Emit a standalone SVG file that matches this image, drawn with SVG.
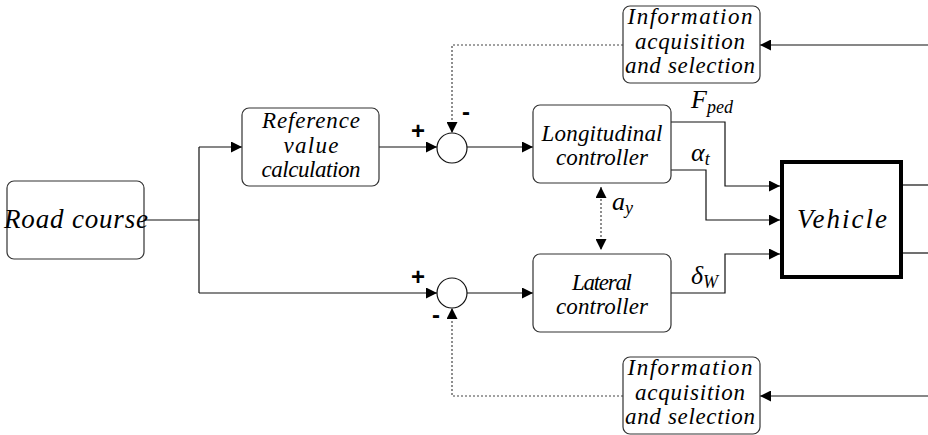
<svg xmlns="http://www.w3.org/2000/svg" width="928" height="435" viewBox="0 0 928 435">
  <style>
    .box { fill: #fff; stroke: #333; stroke-width: 1.2; }
    .wire { fill: none; stroke: #111; stroke-width: 1.2; }
    .dot { fill: none; stroke: #444; stroke-width: 1.2; stroke-dasharray: 2 2; }
    .lbl { font-family: "Liberation Serif", "Times New Roman", serif; font-style: italic; font-weight: normal; font-size: 23px; fill: #000; text-anchor: middle; }
    .sym { font-family: "Liberation Serif", "Times New Roman", serif; font-style: italic; font-size: 26px; fill: #000; }
    .sign { font-family: "Liberation Sans", Arial, sans-serif; font-weight: bold; font-size: 24px; fill: #000; text-anchor: middle; }
  </style>
  <defs>
    <marker id="arr" markerUnits="userSpaceOnUse" markerWidth="11" markerHeight="11" refX="11" refY="5.5" orient="auto-start-reverse">
      <path d="M0,0 L11,5.5 L0,11 z" fill="#000"/>
    </marker>
  </defs>

  <!-- connectors -->
  <g id="connectors">
    <path class="wire" d="M144,220 H199"/>
    <path class="wire" d="M199,147 V293"/>
    <path class="wire" d="M199,147 H242" marker-end="url(#arr)"/>
    <path class="wire" d="M199,293 H437" marker-end="url(#arr)"/>
    <path class="wire" d="M379,147 H437" marker-end="url(#arr)"/>
    <path class="wire" d="M467,147 H533" marker-end="url(#arr)"/>
    <path class="wire" d="M467,293 H533" marker-end="url(#arr)"/>
    <path class="wire" d="M671,122 H725 V186 H780" marker-end="url(#arr)"/>
    <path class="wire" d="M671,170 H706 V220 H780" marker-end="url(#arr)"/>
    <path class="wire" d="M671,293 H725 V254 H780" marker-end="url(#arr)"/>
    <path class="wire" d="M903,185 H928"/>
    <path class="wire" d="M903,253 H928"/>
    <path class="wire" d="M928,45 H760" marker-end="url(#arr)"/>
    <path class="wire" d="M928,396 H760" marker-end="url(#arr)"/>
    <path class="dot" d="M623,45 H452 V133" marker-end="url(#arr)"/>
    <path class="dot" d="M623,396 H452 V308" marker-end="url(#arr)"/>
    <path class="dot" d="M601,187 V250" marker-start="url(#arr)" marker-end="url(#arr)"/>

    <!-- signal labels -->
    <text class="sym" x="691" y="108">F<tspan font-size="18" dy="5">ped</tspan></text>
    <text class="sym" x="691" y="161">α<tspan font-size="18" dy="4">t</tspan></text>
    <text class="sym" x="612" y="210">a<tspan font-size="18" dy="4">y</tspan></text>
    <text class="sym" x="691" y="284">δ<tspan font-size="18" dy="4">W</tspan></text>

    <!-- summing junction signs -->
    <text class="sign" x="418" y="139">+</text>
    <text class="sign" x="466" y="120">-</text>
    <text class="sign" x="418" y="285">+</text>
    <text class="sign" x="436" y="323">-</text>
  </g>

  <g id="road-course">
    <rect class="box" x="7" y="181" width="137" height="78" rx="7"/>
    <text class="lbl" x="76" y="228" style="font-size:27px" textLength="144" lengthAdjust="spacing">Road course</text>
  </g>

  <g id="reference-value">
    <rect class="box" x="242" y="108" width="137" height="78" rx="7"/>
    <text class="lbl" x="311" y="128" textLength="98" lengthAdjust="spacing">Reference</text>
    <text class="lbl" x="311" y="153" textLength="55" lengthAdjust="spacing">value</text>
    <text class="lbl" x="311" y="177" textLength="99" lengthAdjust="spacing">calculation</text>
  </g>

  <g id="sum-longitudinal">
    <circle cx="452" cy="148" r="15" fill="#fff" stroke="#111" stroke-width="1.2"/>
  </g>
  <g id="sum-lateral">
    <circle cx="452" cy="293" r="15" fill="#fff" stroke="#111" stroke-width="1.2"/>
  </g>

  <g id="longitudinal-controller">
    <rect class="box" x="533" y="105" width="138" height="78" rx="7"/>
    <text class="lbl" x="602" y="141" textLength="121" lengthAdjust="spacing">Longitudinal</text>
    <text class="lbl" x="602" y="165" textLength="92" lengthAdjust="spacing">controller</text>
  </g>

  <g id="lateral-controller">
    <rect class="box" x="533" y="254" width="138" height="78" rx="7"/>
    <text class="lbl" x="602" y="290" textLength="60" lengthAdjust="spacing">Lateral</text>
    <text class="lbl" x="602" y="314" textLength="92" lengthAdjust="spacing">controller</text>
  </g>

  <g id="vehicle">
    <rect x="782" y="162" width="119" height="115" fill="#fff" stroke="#000" stroke-width="4"/>
    <text class="lbl" x="842" y="228" style="font-size:27px" textLength="90" lengthAdjust="spacing">Vehicle</text>
  </g>

  <g id="info-upper">
    <rect class="box" x="623" y="6" width="137" height="77" rx="7"/>
    <text class="lbl" x="690" y="24" textLength="125" lengthAdjust="spacing">Information</text>
    <text class="lbl" x="690" y="49" textLength="110" lengthAdjust="spacing">acquisition</text>
    <text class="lbl" x="690" y="73" textLength="130" lengthAdjust="spacing">and selection</text>
  </g>

  <g id="info-lower">
    <rect class="box" x="623" y="357" width="137" height="77" rx="7"/>
    <text class="lbl" x="690" y="375" textLength="125" lengthAdjust="spacing">Information</text>
    <text class="lbl" x="690" y="400" textLength="110" lengthAdjust="spacing">acquisition</text>
    <text class="lbl" x="690" y="424" textLength="130" lengthAdjust="spacing">and selection</text>
  </g>
</svg>
